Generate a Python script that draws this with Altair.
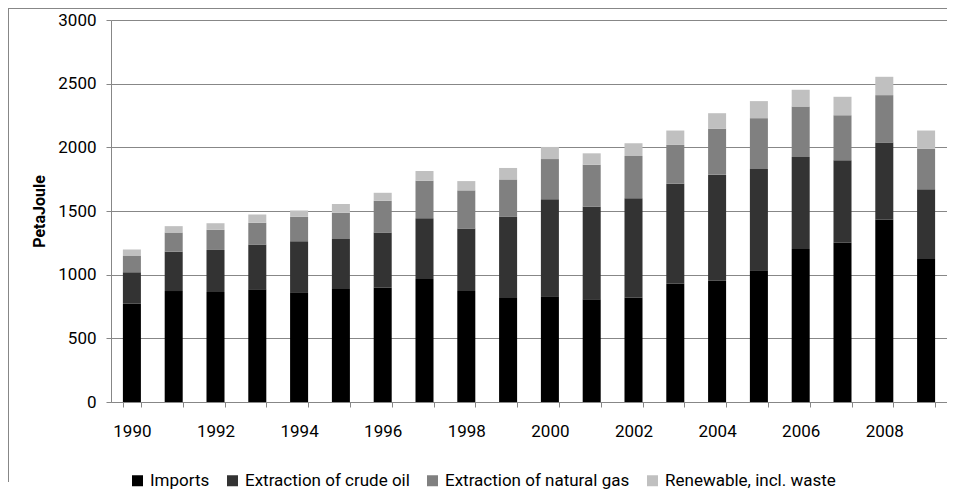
import altair as alt
import pandas as pd

years = list(range(1990, 2010))
series_names = ["Imports", "Extraction of crude oil", "Extraction of natural gas", "Renewable, incl. waste"]
imports = [772, 871, 864, 885, 861, 887, 898, 966, 871, 816, 830, 806, 819, 929, 953, 1034, 1202, 1250, 1431, 1124]
crude_oil = [246, 310, 330, 351, 402, 394, 433, 478, 491, 638, 763, 727, 782, 785, 832, 796, 722, 648, 606, 546]
natural_gas = [129, 150, 158, 171, 191, 205, 249, 294, 300, 294, 315, 331, 331, 305, 362, 399, 397, 354, 373, 320]
renewable = [50, 50, 52, 66, 50, 68, 63, 76, 73, 90, 95, 89, 100, 113, 121, 134, 131, 145, 144, 142]
colors = ["#000000", "#333333", "#808080", "#c0c0c0"]
y_ticks = [0, 500, 1000, 1500, 2000, 2500, 3000]

rows = []
for i, name in enumerate(series_names):
    vals = [imports, crude_oil, natural_gas, renewable][i]
    for y, v in zip(years, vals):
        rows.append({"year": y, "series": name, "value": v, "order": i})
df = pd.DataFrame(rows)

GRAY = "#878787"
FONT = "Roboto"

bars = alt.Chart(df).mark_bar().encode(
    x=alt.X(
        "year:O",
        scale=alt.Scale(paddingInner=0.569, paddingOuter=0.2845),
        axis=alt.Axis(
            title=None,
            grid=False,
            tickBand="extent",
            tickSize=5,
            tickColor=GRAY,
            domainColor=GRAY,
            labelAngle=0,
            labelOverlap=False,
            labelPadding=16,
            labelExpr="datum.value % 2 == 0 ? datum.label : ''",
        ),
    ),
    y=alt.Y(
        "value:Q",
        stack="zero",
        scale=alt.Scale(domain=[0, 3000], nice=False),
        axis=alt.Axis(
            values=y_ticks,
            format="d",
            grid=True,
            title="PetaJoule",
            titleFont=FONT,
            titleFontSize=16,
            titleFontWeight="bold",
            titleColor="#000000",
            titleX=-72,
            titleY=191,
            titleAngle=270,
            titleAlign="center",
            titleBaseline="middle",
            tickSize=5,
            tickColor=GRAY,
            domainColor=GRAY,
            gridColor=GRAY,
            labelPadding=10,
        ),
    ),
    color=alt.Color(
        "series:N",
        scale=alt.Scale(domain=series_names, range=colors),
        legend=alt.Legend(
            title=None,
            orient="none",
            direction="horizontal",
            legendX=18,
            legendY=452,
            symbolType="square",
            symbolSize=121,
            symbolStrokeWidth=0,
            labelFont=FONT,
            labelFontSize=17,
            labelColor="#000000",
            labelLimit=0,
            labelOffset=4,
            columnPadding=14,
            padding=0,
        ),
    ),
    order=alt.Order("order:Q"),
)

frame_df = pd.DataFrame({"k": [0]})
left_frame = alt.Chart(frame_df).mark_rect(color=GRAY, strokeWidth=0).encode(
    x=alt.value(-103), x2=alt.value(-102), y=alt.value(-12), y2=alt.value(462)
)
top_frame = alt.Chart(frame_df).mark_rect(color=GRAY, strokeWidth=0).encode(
    x=alt.value(-103), x2=alt.value(836), y=alt.value(-12), y2=alt.value(-11)
)

chart = (
    alt.layer(bars, left_frame, top_frame)
    .properties(width=836, height=382, padding=0)
    .configure_view(strokeWidth=0, stroke="transparent")
    .configure_axis(
        labelFont=FONT,
        labelFontSize=17,
        labelColor="#000000",
    )
)

chart.save("out.html", embed_options={"renderer": "svg", "actions": False})
